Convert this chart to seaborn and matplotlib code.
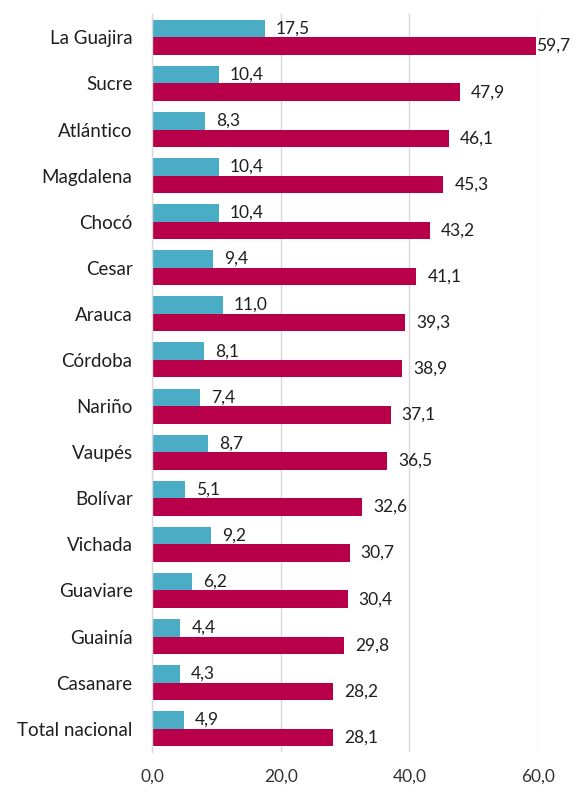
import matplotlib
matplotlib.use("Agg")
import matplotlib.pyplot as plt
import seaborn as sns
import pandas as pd

categories = ["La Guajira", "Sucre", "Atlántico", "Magdalena", "Chocó", "Cesar",
              "Arauca", "Córdoba", "Nariño", "Vaupés", "Bolívar", "Vichada",
              "Guaviare", "Guainía", "Casanare", "Total nacional"]
serie_a = [17.5, 10.4, 8.3, 10.4, 10.4, 9.4, 11.0, 8.1, 7.4, 8.7, 5.1, 9.2, 6.2, 4.4, 4.3, 4.9]
serie_b = [59.7, 47.9, 46.1, 45.3, 43.2, 41.1, 39.3, 38.9, 37.1, 36.5, 32.6, 30.7, 30.4, 29.8, 28.2, 28.1]
series_names = ["Serie A", "Serie B"]
colors = ["#4BACC6", "#B8004A"]
xticks = [0, 20, 40, 60]

df = pd.DataFrame({
    "cat": categories * 2,
    "val": serie_a + serie_b,
    "serie": [series_names[0]] * len(categories) + [series_names[1]] * len(categories),
})

sns.set_theme(style="white")
plt.rcParams["font.family"] = ["Lato", "DejaVu Sans"]

fig = plt.figure(figsize=(5.76, 7.93), dpi=100)
ax = fig.add_axes([0.264, 0.052, 0.670, 0.930])

sns.barplot(data=df, y="cat", x="val", hue="serie", orient="h", dodge=True,
            palette=colors, width=0.76, ax=ax, legend=False, saturation=1,
            edgecolor="none")

ax.set_xlim(0, 60)
ax.set_xticks(xticks)
ax.set_xticklabels([f"{t:.1f}".replace(".", ",") for t in xticks], fontsize=12.5, color="#333333")
ax.tick_params(axis="y", labelsize=13.5, labelcolor="#1F1F1F", length=0, pad=14)
ax.tick_params(axis="x", length=0, pad=12)
ax.set_xlabel("")
ax.set_ylabel("")
ax.xaxis.grid(True, color="#D9D9D9", linewidth=1)
ax.set_axisbelow(True)
for s in ["top", "right", "bottom"]:
    ax.spines[s].set_visible(False)
ax.spines["left"].set_color("#D9D9D9")
ax.spines["left"].set_linewidth(1)

for cont in ax.containers:
    labels = [f"{v:.1f}".replace(".", ",") for v in cont.datavalues]
    anns = ax.bar_label(cont, labels=labels, padding=8, fontsize=12.5, color="#1F1F1F", clip_on=False)
    for ann, v in zip(anns, cont.datavalues):
        if v > 55:
            ann.xyann = (0, 0)

fig.savefig("out.png", dpi=100)
